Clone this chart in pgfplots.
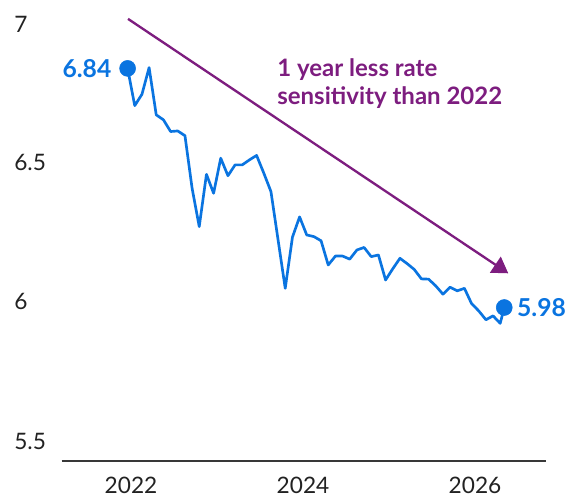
\documentclass[border=0pt]{standalone}
\usepackage{pgfplots}
\pgfplotsset{compat=1.18}
\usepackage{fontspec}
\setmainfont{Lato}
\usetikzlibrary{arrows.meta}
\definecolor{lineblue}{HTML}{0A74E0}
\definecolor{arrowpurple}{HTML}{7D1D7F}
\definecolor{ticktext}{HTML}{222222}
\begin{document}
\begin{tikzpicture}
\begin{axis}[
  name=ax,
  scale only axis,
  width=362.85pt, height=345.75pt,
  xmin=2021.194, xmax=2026.82,
  ymin=5.428, ymax=7.086,
  clip=false,
  axis x line*=bottom,
  axis y line*=left,
  y axis line style={draw=none},
  x axis line style={draw=ticktext!90, line width=1pt, -},
  major tick length=0pt,
  xtick={2022,2024,2026},
  xticklabels={2022,2024,2026},
  ytick={5.5,6,6.5,7},
  yticklabels={5.5,6,6.5,7},
  /pgf/number format/assume math mode=true,
  tick label style={font=\fontsize{17}{20}\selectfont, text=ticktext},
  xticklabel style={anchor=north, inner sep=0pt, yshift=-11.5pt},
  yticklabel style={anchor=west, inner sep=0pt, xshift=-35.8pt},
]
\addplot[lineblue, line width=2pt, line join=round] coordinates {
(2021.960,6.84) (2022.043,6.706) (2022.127,6.747) (2022.210,6.843)
(2022.293,6.673) (2022.377,6.655) (2022.460,6.613) (2022.543,6.615)
(2022.627,6.598) (2022.710,6.409) (2022.793,6.271) (2022.877,6.459)
(2022.960,6.391) (2023.043,6.517) (2023.127,6.454) (2023.210,6.493)
(2023.293,6.493) (2023.377,6.511) (2023.460,6.527) (2023.543,6.464)
(2023.627,6.397) (2023.710,6.223) (2023.793,6.049) (2023.877,6.233)
(2023.960,6.306) (2024.043,6.241) (2024.127,6.235) (2024.210,6.220)
(2024.293,6.133) (2024.377,6.165) (2024.460,6.165) (2024.543,6.154)
(2024.627,6.187) (2024.710,6.196) (2024.793,6.163) (2024.877,6.169)
(2024.960,6.079) (2025.043,6.119) (2025.127,6.157) (2025.210,6.138)
(2025.293,6.117) (2025.377,6.083) (2025.460,6.082) (2025.543,6.058)
(2025.627,6.028) (2025.710,6.053) (2025.793,6.040) (2025.877,6.049)
(2025.960,5.994) (2026.043,5.968) (2026.127,5.936) (2026.210,5.950)
(2026.293,5.923) (2026.340,5.98)
};
\addplot[only marks, mark=*, mark size=6pt, color=lineblue] coordinates {
(2021.960,6.84) (2026.340,5.98)
};
\draw[arrowpurple, line width=1.75pt, -{Triangle[length=11.7pt,width=14.2pt]}]
  (axis cs:2021.965,7.018) -- (axis cs:2026.387,6.103);
\node[anchor=east, inner sep=0pt, xshift=-12pt, text=lineblue,
  font=\fontsize{18.5}{20}\selectfont\bfseries] at (axis cs:2021.960,6.84) {6.84};
\node[anchor=west, inner sep=0pt, xshift=9.5pt, text=lineblue,
  font=\fontsize{18.5}{20}\selectfont\bfseries] at (axis cs:2026.340,5.98) {5.98};
\node[anchor=north west, inner sep=0pt, align=left, text=arrowpurple,
  font=\fontsize{18}{21}\selectfont\bfseries] at (axis cs:2023.698,6.875)
  {1 year less rate\\sensitivity than 2022};
\end{axis}
\pgfresetboundingbox
\path[use as bounding box] ([xshift=-46.3pt,yshift=-26.25pt]ax.south west) rectangle ++(426.75pt,372pt);
\end{tikzpicture}
\end{document}
